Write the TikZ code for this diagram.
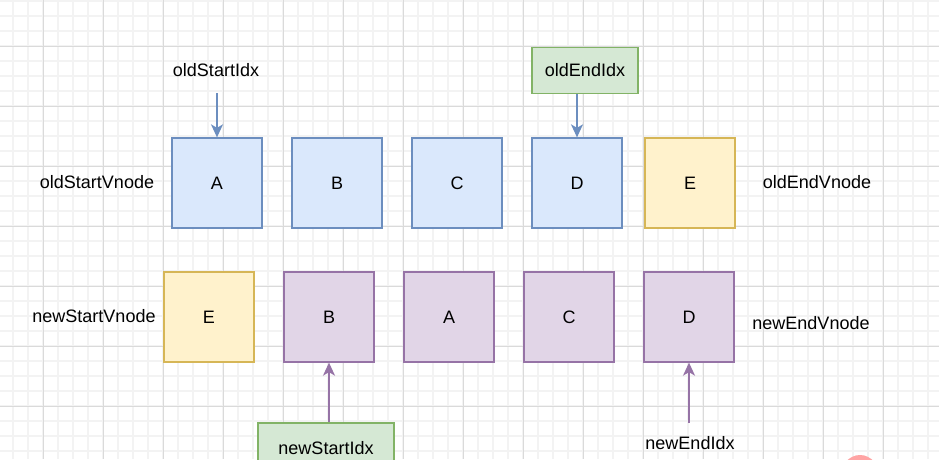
\documentclass[tikz,border=0pt]{standalone}
\usepackage{fontspec}
\setmainfont{Liberation Sans}
\usetikzlibrary{arrows.meta}
\definecolor{bluefill}{HTML}{DAE8FC}
\definecolor{bluedraw}{HTML}{6C8EBF}
\definecolor{yelfill}{HTML}{FFF2CC}
\definecolor{yeldraw}{HTML}{D6B656}
\definecolor{purfill}{HTML}{E1D5E7}
\definecolor{purdraw}{HTML}{9673A6}
\definecolor{grnfill}{HTML}{D5E8D4}
\definecolor{grndraw}{HTML}{82B366}
\definecolor{gridminor}{HTML}{F3F3F3}
\definecolor{gridmajor}{HTML}{DADADA}
\definecolor{wmpink}{HTML}{FFA4A4}
\tikzset{
  cell/.style={minimum width=90pt,minimum height=90pt,line width=1.3pt,inner sep=0pt,font=\fontsize{18}{20}\selectfont},
  oldcell/.style={cell,draw=bluedraw,fill=bluefill},
  newcell/.style={cell,draw=purdraw,fill=purfill},
  yelcell/.style={cell,draw=yeldraw,fill=yelfill},
  idxbox/.style={draw=grndraw,fill=grnfill,line width=1.3pt,inner sep=0pt,font=\fontsize{18}{20}\selectfont},
  lbl/.style={inner sep=0pt,font=\fontsize{18}{20}\selectfont},
  bluearrow/.style={draw=bluedraw,line width=1.4pt,-{Stealth[length=13pt,width=12pt,inset=3.5pt]}},
  purarrow/.style={draw=purdraw,line width=1.4pt,-{Stealth[length=13pt,width=12pt,inset=3.5pt]}},
}
\begin{document}
\begin{tikzpicture}[x=1pt,y=-1pt]
\useasboundingbox (0,0) rectangle (939,459);
\fill[white] (0,0) rectangle (939,459);
% grid
\foreach \gx in {13,28,...,939} {\draw[gridminor,line width=1.6pt] (\gx,0) -- (\gx,459);}
\foreach \gy in {1,16,...,459} {\draw[gridminor,line width=1.6pt] (0,\gy) -- (939,\gy);}
\foreach \gx in {43,103,...,939} {\draw[gridmajor,line width=0.9pt] (\gx,0) -- (\gx,459);}
\foreach \gy in {46,106,...,459} {\draw[gridmajor,line width=0.9pt] (0,\gy) -- (939,\gy);}
% watermark blob
\fill[wmpink] (860,478) ellipse (20pt and 23pt);
% old row
\node[oldcell] (oA) at (217,183) {A};
\node[oldcell] (oB) at (337,183) {B};
\node[oldcell] (oC) at (457,183) {C};
\node[oldcell] (oD) at (577,183) {D};
\node[yelcell] (oE) at (690,183) {E};
% new row
\node[yelcell] (nE) at (209,317) {E};
\node[newcell] (nB) at (329,317) {B};
\node[newcell] (nA) at (449,317) {A};
\node[newcell] (nC) at (569,317) {C};
\node[newcell] (nD) at (689,317) {D};
% side labels
\node[lbl] (osv) at (97,182) {oldStartVnode};
\node[lbl] (oev) at (817,182) {oldEndVnode};
\node[lbl] (nsv) at (94,316) {newStartVnode};
\node[lbl] (nev) at (811,323) {newEndVnode};
% index pointers
\node[lbl] (osi) at (216,70) {oldStartIdx};
\coordinate (osiS) at (217,93);
\draw[bluearrow] (osiS) -- (oA.north);
\node[idxbox,minimum width=106pt,minimum height=46pt] (oei) at (585,70.5) {oldEndIdx};
\draw[bluearrow] (oei.south -| oD.north) -- (oD.north);
\node[idxbox,minimum width=136pt,minimum height=50pt] (nsi) at (326,448) {newStartIdx};
\draw[purarrow] (nsi.north -| nB.south) -- (nB.south);
\node[lbl] (nei) at (690,443) {newEndIdx};
\coordinate (neiS) at (689,423);
\draw[purarrow] (neiS) -- (nD.south);
\end{tikzpicture}
\end{document}
